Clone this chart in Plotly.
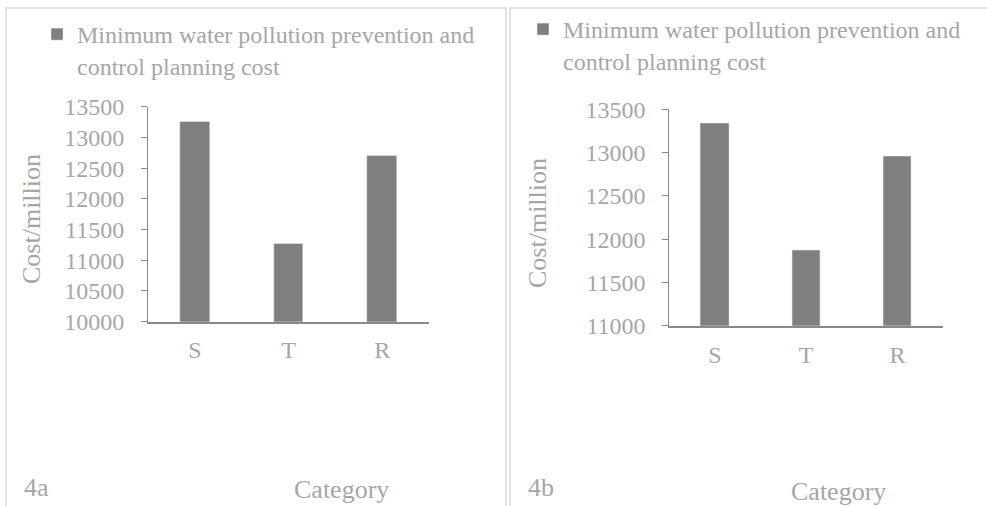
import plotly.graph_objects as go

categories = ["S", "T", "R"]
cost_4a = [13255, 11275, 12700]
cost_4b = [13340, 11870, 12955]
series_name = "Minimum water pollution prevention and<br>control planning cost"
y_ticks_4a = [10000, 10500, 11000, 11500, 12000, 12500, 13000, 13500]
y_ticks_4b = [11000, 11500, 12000, 12500, 13000, 13500]

W, H = 987, 506
FONT = "Liberation Serif, Times New Roman, serif"
TXT = "#a6a6a6"
AX = "#898989"
BAR = "#7f7f7f"

def px(x):
    return x / W

def py(y):
    return 1 - y / H

fig = go.Figure()
fig.add_trace(go.Bar(x=categories, y=cost_4a, name=series_name, marker_color=BAR,
                     width=0.315, xaxis="x", yaxis="y", legend="legend"))
fig.add_trace(go.Bar(x=categories, y=cost_4b, name=series_name, marker_color=BAR,
                     width=0.31, xaxis="x2", yaxis="y2", legend="legend2"))

common_x = dict(type="category", range=[-0.5, 2.5], showline=True, linecolor=AX, linewidth=1.6,
                ticks="", showgrid=False, zeroline=False, automargin=False,
                tickfont=dict(family=FONT, size=24, color=TXT))
common_y = dict(showline=True, linecolor=AX, linewidth=1, ticks="outside", ticklen=6,
                tickcolor=AX, tickwidth=1, showgrid=False, zeroline=False, automargin=False,
                tickformat="d",
                tickfont=dict(family=FONT, size=24, color=TXT), ticklabelstandoff=12)

fig.update_layout(
    width=W, height=H, margin=dict(l=0, r=0, t=0, b=0, autoexpand=False),
    paper_bgcolor="white", plot_bgcolor="white",
    bargap=0,
    xaxis=dict(domain=[px(148), px(429)], anchor="y", ticklabelstandoff=6, **common_x),
    yaxis=dict(domain=[py(321.7), py(106.7)], anchor="x", range=[10000, 13500],
               tickvals=y_ticks_4a, **common_y),
    xaxis2=dict(domain=[px(669.3), px(943)], anchor="y2", ticklabelstandoff=7, **common_x),
    yaxis2=dict(domain=[py(325.7), py(109.3)], anchor="x2", range=[11000, 13500],
                tickvals=y_ticks_4b, **common_y),
    legend=dict(x=px(37), y=py(12), xanchor="left", yanchor="top", valign="top",
                bgcolor="rgba(0,0,0,0)", font=dict(family=FONT, size=24, color=TXT)),
    legend2=dict(x=px(523), y=py(7), xanchor="left", yanchor="top", valign="top",
                 bgcolor="rgba(0,0,0,0)", font=dict(family=FONT, size=24, color=TXT)),
    showlegend=True,
)

# panel borders
fig.add_shape(type="rect", xref="paper", yref="paper", x0=px(6), x1=px(506), y0=py(520), y1=py(8),
              line=dict(color="#d9d9d9", width=1.5), layer="below")
fig.add_shape(type="rect", xref="paper", yref="paper", x0=px(510), x1=px(1000), y0=py(520), y1=py(8),
              line=dict(color="#d9d9d9", width=1.5), layer="below")

ann_font = dict(family=FONT, size=26, color=TXT)
fig.add_annotation(text="Cost/million", textangle=-90, x=px(32), y=py(219), xref="paper", yref="paper",
                   showarrow=False, font=ann_font, xanchor="center", yanchor="middle")
fig.add_annotation(text="Cost/million", textangle=-90, x=px(537), y=py(223), xref="paper", yref="paper",
                   showarrow=False, font=ann_font, xanchor="center", yanchor="middle")
fig.add_annotation(text="Category", x=px(341.5), y=py(489), xref="paper", yref="paper",
                   showarrow=False, font=ann_font, xanchor="center", yanchor="middle")
fig.add_annotation(text="Category", x=px(838.5), y=py(491), xref="paper", yref="paper",
                   showarrow=False, font=ann_font, xanchor="center", yanchor="middle")
fig.add_annotation(text="4a", x=px(22), y=py(487), xref="paper", yref="paper",
                   showarrow=False, font=ann_font, xanchor="left", yanchor="middle")
fig.add_annotation(text="4b", x=px(526), y=py(487), xref="paper", yref="paper",
                   showarrow=False, font=ann_font, xanchor="left", yanchor="middle")

fig.write_html("out.html", config={"displayModeBar": False},
               post_script="document.body.style.margin='0';")
